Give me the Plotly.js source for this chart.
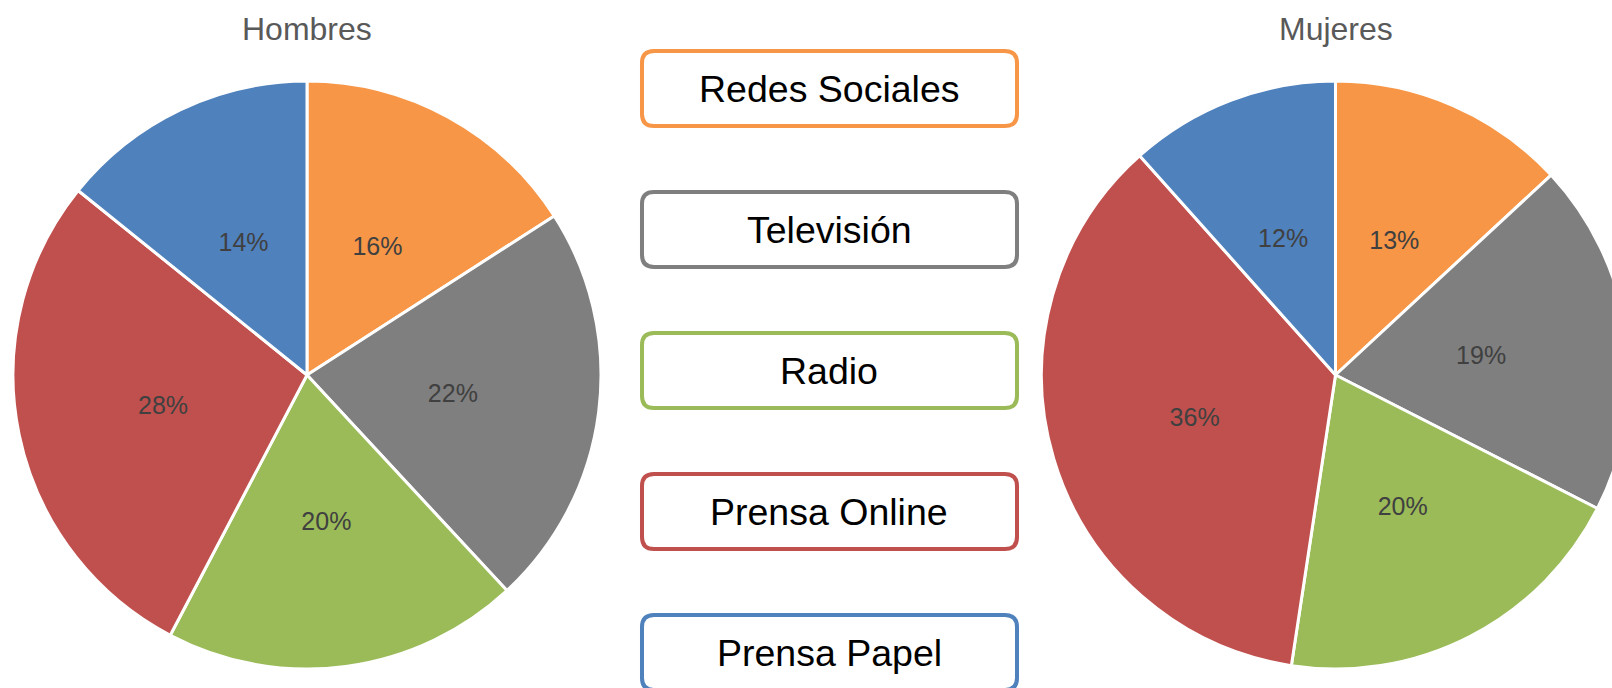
<!DOCTYPE html>
<html>
<head>
<meta charset="utf-8">
<script src="https://cdn.plot.ly/plotly-3.0.1.min.js"></script>
<style>
  html, body { margin: 0; padding: 0; overflow: hidden; background: #fff; }
  #chart { width: 1640px; height: 688px; }
</style>
</head>
<body>
<div id="chart"></div>
<script>
// data (shares; labels round them)
const categorias = ["Redes Sociales", "Televisión", "Radio", "Prensa Online", "Prensa Papel"];
const hombres = [15.9, 22.2, 19.6, 28.1, 14.2];
const mujeres = [13.1, 19.4, 19.9, 36.0, 11.6];
const colores = ["#F79646", "#7F7F7F", "#9BBB59", "#C0504D", "#4F81BD"];
const titulos = ["Hombres", "Mujeres"];

const W = 1640, H = 688;
const font = "Liberation Sans, Arial, sans-serif";
const R = 294;

// pixel -> paper
function px(x) { return x / W; }
function py(y) { return 1 - y / H; }

function base(values, cx, cy, rad) {
  return {
    type: "pie",
    labels: categorias,
    values: values,
    sort: false,
    direction: "clockwise",
    rotation: 0,
    showlegend: false,
    domain: { x: [px(cx - rad), px(cx + rad)], y: [py(cy + rad), py(cy - rad)] },
  };
}

// filled pie, no text
function pieTrace(values, cx, cy) {
  return Object.assign(base(values, cx, cy, R), {
    marker: { colors: colores, line: { color: "#ffffff", width: 3 } },
    textinfo: "none",
    hoverinfo: "label+percent",
  });
}

// transparent ring on top, only to carry the % labels at half radius
function labelTrace(values, cx, cy) {
  return Object.assign(base(values, cx, cy, R * 2 / 3), {
    hole: 0.5,
    marker: { colors: categorias.map(() => "rgba(0,0,0,0)"), line: { width: 0 } },
    texttemplate: "%{percent:.0%}",
    textposition: "inside",
    insidetextorientation: "horizontal",
    textfont: { family: font, size: 25, color: "#404040" },
    hoverinfo: "skip",
  });
}

let plots = [
  pieTrace(hombres, 307, 375),
  pieTrace(mujeres, 1335.5, 375),
  labelTrace(hombres, 307, 375),
  labelTrace(mujeres, 1335.5, 375),
];

// titles above each pie
let annotations = [
  { text: titulos[0], x: px(307), y: py(28.6) },
  { text: titulos[1], x: px(1336), y: py(28.6) },
].map(a => Object.assign(a, {
  xref: "paper", yref: "paper", xanchor: "center", yanchor: "middle",
  showarrow: false, font: { family: font, size: 32, color: "#595959" },
}));

// legend boxes in the middle, rounded corners
let shapes = [];
const bx0 = 642, bx1 = 1017, bh = 75, step = 141, top0 = 51, r = 12;
for (let i = 0; i < categorias.length; i++) {
  let y0 = top0 + i * step, y1 = y0 + bh;
  let p = [
    "M", px(bx0 + r), py(y0),
    "L", px(bx1 - r), py(y0),
    "Q", px(bx1), py(y0), px(bx1), py(y0 + r),
    "L", px(bx1), py(y1 - r),
    "Q", px(bx1), py(y1), px(bx1 - r), py(y1),
    "L", px(bx0 + r), py(y1),
    "Q", px(bx0), py(y1), px(bx0), py(y1 - r),
    "L", px(bx0), py(y0 + r),
    "Q", px(bx0), py(y0), px(bx0 + r), py(y0),
    "Z",
  ];
  let path = "";
  for (let k = 0; k < p.length; k++) {
    path += (typeof p[k] === "number" ? p[k].toFixed(5) : p[k]) + " ";
  }
  shapes.push({
    type: "path", xref: "paper", yref: "paper", path: path.trim(),
    line: { color: colores[i], width: 4 }, fillcolor: "#ffffff",
  });
  annotations.push({
    text: categorias[i], xref: "paper", yref: "paper",
    x: px((bx0 + bx1) / 2), y: py((y0 + y1) / 2),
    xanchor: "center", yanchor: "middle", showarrow: false,
    font: { family: font, size: 37.5, color: "#000000" },
  });
}

let layout = {
  width: W,
  height: H,
  margin: { l: 0, r: 0, t: 0, b: 0 },
  paper_bgcolor: "#ffffff",
  plot_bgcolor: "#ffffff",
  showlegend: false,
  shapes: shapes,
  annotations: annotations,
};

Plotly.newPlot("chart", plots, layout, { displayModeBar: false, staticPlot: true });
</script>
</body>
</html>
